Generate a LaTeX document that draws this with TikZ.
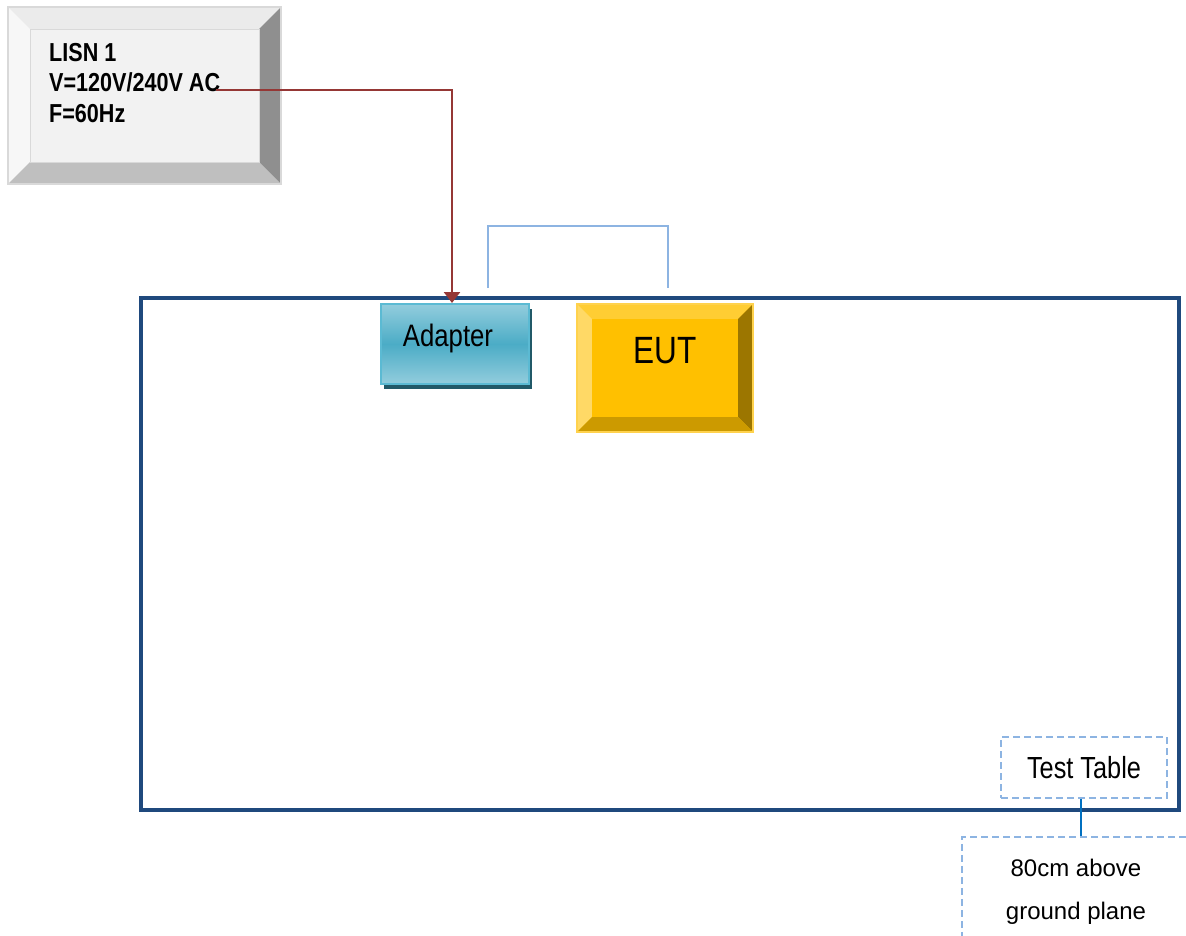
\documentclass[tikz,border=0pt]{standalone}
\usepackage{fontspec}
\setmainfont{Liberation Sans}
\newfontfamily\narrowfont[FakeStretch=0.83]{Liberation Sans}
\usetikzlibrary{positioning, arrows.meta, shadows}

\definecolor{tableblue}{HTML}{1F497D}
\definecolor{cableblue}{HTML}{8DB4E2}
\definecolor{labelblue}{HTML}{8DB4E2}
\definecolor{linkblue}{HTML}{0070C0}
\definecolor{powerred}{HTML}{953735}
\definecolor{lisnface}{HTML}{F2F2F2}
\definecolor{lisntop}{HTML}{EBEBEB}
\definecolor{lisnleft}{HTML}{F7F7F7}
\definecolor{lisnright}{HTML}{8F8F8F}
\definecolor{lisnbottom}{HTML}{BFBFBF}
\definecolor{lisnedge}{HTML}{D9D9D9}
\definecolor{eutface}{HTML}{FFC000}
\definecolor{euttop}{HTML}{FFCD33}
\definecolor{eutleft}{HTML}{FFD966}
\definecolor{eutright}{HTML}{9C7600}
\definecolor{eutbottom}{HTML}{CC9A00}
\definecolor{eutedge}{HTML}{FFD24D}
\definecolor{adapterlight}{HTML}{93CDDD}
\definecolor{adaptermid}{HTML}{4BACC6}
\definecolor{adapteredge}{HTML}{5BBAD3}
\definecolor{adaptershadow}{HTML}{215968}

\begin{document}
\begin{tikzpicture}[x=1pt, y=-1pt]
    \useasboundingbox (0,0) rectangle (1186,935);
    \clip (0,0) rectangle (1186,935);

    \node[shape=rectangle, draw=tableblue, line width=3.5pt, minimum width=1038pt, minimum height=512pt] (Table) at (660,554) {};

    \node[shape=rectangle, fill=lisnface, minimum width=273pt, minimum height=177pt] (LISN) at (144.5,95.5) {};
    \fill[lisntop] (LISN.north west) -- (LISN.north east) -- ([shift={(-22,22)}]LISN.north east) -- ([shift={(22,22)}]LISN.north west) -- cycle;
    \fill[lisnleft] (LISN.north west) -- (LISN.south west) -- ([shift={(22,-22)}]LISN.south west) -- ([shift={(22,22)}]LISN.north west) -- cycle;
    \fill[lisnright] (LISN.north east) -- (LISN.south east) -- ([shift={(-22,-22)}]LISN.south east) -- ([shift={(-22,22)}]LISN.north east) -- cycle;
    \fill[lisnbottom] (LISN.south west) -- (LISN.south east) -- ([shift={(-22,-22)}]LISN.south east) -- ([shift={(22,-22)}]LISN.south west) -- cycle;
    \draw[lisnedge] ([shift={(22,22)}]LISN.north west) rectangle ([shift={(-22,-22)}]LISN.south east);
    \draw[lisnedge, line width=1.5pt] (LISN.north west) rectangle (LISN.south east);
    \node[anchor=north west, align=left, inner sep=0pt, font=\narrowfont\bfseries\fontsize{26}{30.5}\selectfont] (LISNtext) at (49,43) {LISN 1\\V=120V/240V AC\\F=60Hz};

    \node[shape=rectangle, draw=adapteredge, line width=2pt, top color=adapterlight, bottom color=adapterlight, middle color=adaptermid, minimum width=148pt, minimum height=80pt, drop shadow={shadow xshift=3pt, shadow yshift=-5pt, fill=adaptershadow, opacity=1}] (Adapter) at (455,344) {};
    \node[anchor=base, font=\narrowfont\fontsize{31}{31}\selectfont] (AdapterText) at (448,346) {Adapter};

    \node[shape=rectangle, fill=eutface, minimum width=176pt, minimum height=128pt] (EUT) at (665,368) {};
    \fill[euttop] (EUT.north west) -- (EUT.north east) -- ([shift={(-15,15)}]EUT.north east) -- ([shift={(15,15)}]EUT.north west) -- cycle;
    \fill[eutleft] (EUT.north west) -- (EUT.south west) -- ([shift={(15,-15)}]EUT.south west) -- ([shift={(15,15)}]EUT.north west) -- cycle;
    \fill[eutright] (EUT.north east) -- (EUT.south east) -- ([shift={(-15,-15)}]EUT.south east) -- ([shift={(-15,15)}]EUT.north east) -- cycle;
    \fill[eutbottom] (EUT.south west) -- (EUT.south east) -- ([shift={(-15,-15)}]EUT.south east) -- ([shift={(15,-15)}]EUT.south west) -- cycle;
    \draw[eutedge, line width=1.5pt] (EUT.north west) rectangle (EUT.south east);
    \node[anchor=base, font=\narrowfont\fontsize{38}{38}\selectfont] (EUTtext) at (665,363) {EUT};

    \coordinate (LISNout) at (216,90);
    \draw[-{Triangle[width=16pt,length=11pt]}, powerred, line width=2.5pt] (LISNout) -| ([xshift=-3pt]Adapter.north);

    \coordinate (cableA) at (488,288);
    \coordinate (cableB) at (668,288);
    \draw[cableblue, line width=2.5pt] (cableA) -- ++(0,-62) -| (cableB);

    \node[shape=rectangle, draw=labelblue, dash pattern=on 7pt off 4pt, line width=1.5pt, minimum width=166pt, minimum height=61pt, font=\narrowfont\fontsize{30.5}{30.5}\selectfont] (TableLabel) at (1084,767.5) {Test Table};

    \node[shape=rectangle, draw=labelblue, dash pattern=on 7pt off 4pt, line width=1.5pt, minimum width=240pt, minimum height=140pt, anchor=north west] (Ground) at (961,836) {};
    \node[anchor=north, align=center, inner sep=0pt, font=\fontsize{24}{43}\selectfont] (GroundText) at (1076,859) {80cm above\\ground plane};

    \draw[linkblue, line width=2.5pt] ([xshift=-3pt]TableLabel.south) -- ([xshift=-3pt]TableLabel.south |- Ground.north);
\end{tikzpicture}
\end{document}
